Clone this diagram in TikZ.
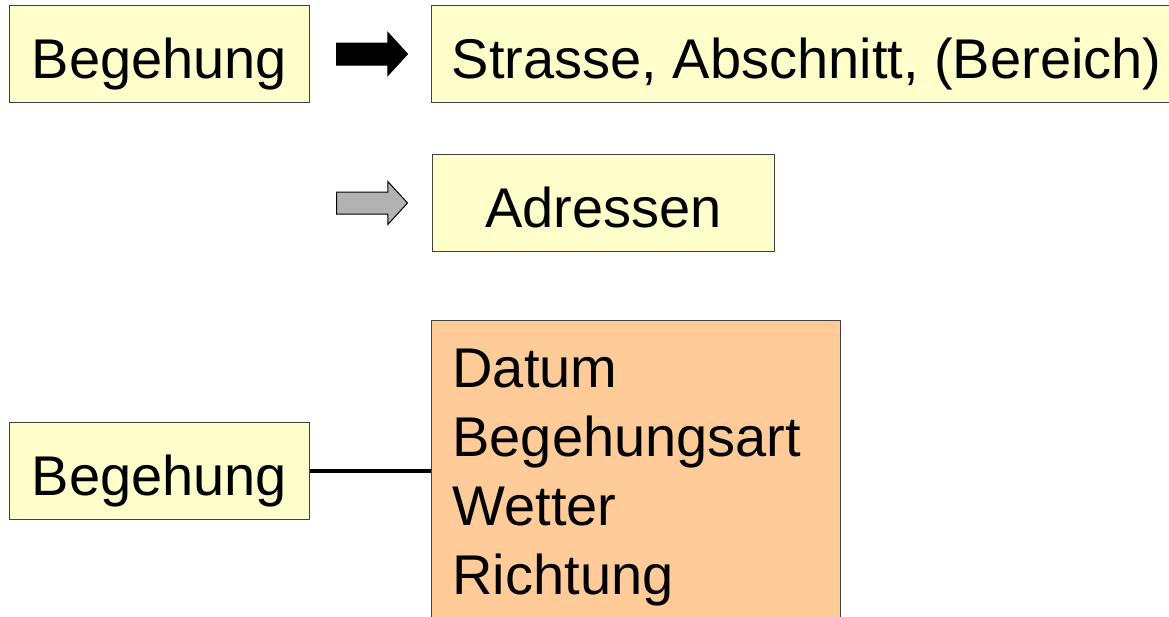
\documentclass[tikz,border=0pt]{standalone}
\usepackage{fontspec}
\setmainfont{Liberation Sans}
\usepackage{tikz}
\usetikzlibrary{positioning,shapes,shapes.arrows}
\definecolor{paleyellow}{HTML}{FFFFCC}
\definecolor{paleorange}{HTML}{FFCC99}
\definecolor{arrowgray}{HTML}{B2B2B2}
\tikzstyle{entity} = [rectangle, draw=black!75, line width=1pt, fill=paleyellow, minimum height=97pt, text height=52pt, text depth=4pt, font=\fontsize{56}{69}\selectfont]
\tikzstyle{attrbox} = [rectangle, draw=black!75, line width=1pt, fill=paleorange, minimum width=409pt, minimum height=314pt, inner xsep=21pt, text width=367pt, align=left, font=\fontsize{56}{69}\selectfont]
\tikzstyle{blockarrow} = [single arrow, draw=black, line width=1pt, minimum height=71pt, inner sep=0pt, single arrow head extend=10.5pt, single arrow tip angle=95]
\tikzstyle{link} = [line width=4pt]

\begin{document}
\begin{tikzpicture}[x=1pt, y=-1pt]
\useasboundingbox (0,0) rectangle (1169,616);
\node (beg1) [entity, anchor=north west, minimum width=300pt] at (9,5) {Begehung};
\node (fwd) [blockarrow, fill=black, right=26pt of beg1] {\rule{0pt}{21pt}};
\node (strasse) [entity, minimum width=750pt, right=23pt of fwd] {Strasse, Abschnitt, (Bereich)};
\node (fwd2) [blockarrow, fill=arrowgray, below=149pt of fwd.center, anchor=center] {\rule{0pt}{21pt}};
\node (adressen) [entity, minimum width=342pt, right=24pt of fwd2] {Adressen};
\node (beg2) [entity, minimum width=300pt, below=319pt of beg1] {Begehung};
\node (attrs) [attrbox, anchor=north west] at (431,320) {Datum\\Begehungsart\\Wetter\\Richtung};
\draw [link] (beg2.east) -- (beg2.east -| attrs.west);
\end{tikzpicture}
\end{document}
